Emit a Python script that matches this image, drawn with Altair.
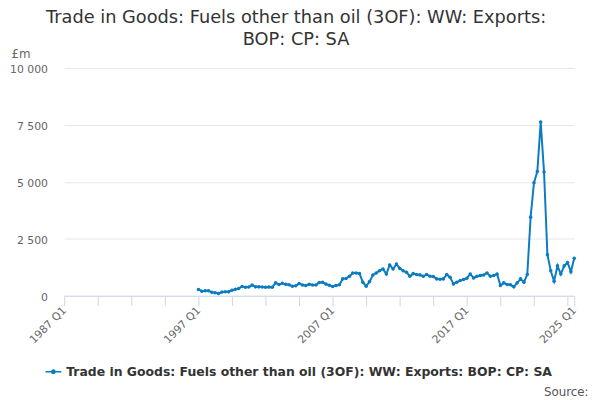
import altair as alt
import pandas as pd

# ---- data ----
series_name = "Trade in Goods: Fuels other than oil (3OF): WW: Exports: BOP: CP: SA"
title_lines = ["Trade in Goods: Fuels other than oil (3OF): WW: Exports:",
               "BOP: CP: SA"]

quarters = [f"{y} Q{q}" for y in range(1997, 2026) for q in range(1, 5)][:113]

values = [
    275, 200, 215, 220, 150, 130, 100, 160, 175, 170,
    245, 280, 320, 405, 375, 380, 465, 390, 390, 385,
    375, 380, 375, 565, 490, 550, 500, 480, 420, 440,
    535, 470, 450, 505, 470, 470, 580, 595, 510, 460,
    405, 450, 480, 740, 760, 850, 1000, 1000, 970, 595,
    420, 620, 910, 1000, 1100, 1175, 955, 1350, 1175, 1390,
    1200, 1100, 1030, 855, 970, 930, 915, 855, 930, 855,
    840, 740, 725, 740, 930, 810, 520, 595, 665, 710,
    770, 955, 780, 855, 885, 910, 1000, 855, 885, 955,
    450, 565, 490, 480, 390, 565, 740, 595, 930, 3450,
    4960, 5450, 7620, 5430, 1800, 1100, 635, 1310, 950, 1310,
    1460, 1050, 1645,
]

x_axis_first = "1987 Q1"
x_axis_last = "2025 Q1"
x_tick_labels = ["1987 Q1", "1997 Q1", "2007 Q1", "2017 Q1", "2025 Q1"]
y_ticks = [0, 2500, 5000, 7500, 10000]
y_unit = "£m"
source_text = "Source:"


def qpos(s):
    y, q = s.split(" Q")
    return int(y) + (int(q) - 1) / 4


df = pd.DataFrame({"quarter": quarters, "value": values})
df["series"] = series_name
df["t"] = df["quarter"].map(qpos)

x0, x1 = qpos(x_axis_first), qpos(x_axis_last)
tick_vals = []
v = x0
while v < x1 - 1e-9:
    tick_vals.append(v)
    v += 2.5
tick_vals.append(x1)

label_pos = [qpos(s) for s in x_tick_labels]
label_expr = " : ".join(
    [f"abs(datum.value - {p}) < 0.01 ? '{s}'" for p, s in zip(label_pos, x_tick_labels)]
) + " : ''"

line_color = "#0c7cc0"

chart = alt.Chart(df).mark_line(
    strokeWidth=2,
    color=line_color,
    point=alt.OverlayMarkDef(size=13, filled=True, color=line_color),
).encode(
    x=alt.X(
        "t:Q",
        scale=alt.Scale(domain=[x0, x1], nice=False, zero=False),
        axis=alt.Axis(
            values=tick_vals,
            labelExpr=label_expr,
            labelAngle=-45,
            labelAlign="right",
            labelBaseline="middle",
            labelPadding=3,
            labelColor="#666666",
            labelFontSize=11,
            labelOverlap=False,
            labelBound=False,
            labelFlush=False,
            grid=False,
            domainColor="#ccd6eb",
            tickColor="#ccd6eb",
            tickSize=10,
            title=source_text,
            titleX=531,
            titleY=97,
            titleAlign="right",
            titleBaseline="middle",
            titleFontSize=12,
            titleFontWeight="normal",
            titleColor="#555555",
        ),
    ),
    y=alt.Y(
        "value:Q",
        scale=alt.Scale(domain=[0, 10000], nice=False),
        axis=alt.Axis(
            values=y_ticks,
            labelExpr="replace(format(datum.value, ','), ',', ' ')",
            labelColor="#666666",
            labelFontSize=11,
            labelPadding=17,
            labelOffset=2,
            domain=False,
            ticks=False,
            gridColor="#e6e6e6",
            title=y_unit,
            titleAngle=0,
            titleX=-54,
            titleY=-15,
            titleAlign="left",
            titleBaseline="middle",
            titleFontSize=12,
            titleFontWeight="normal",
            titleColor="#666666",
        ),
    ),
    color=alt.Color(
        "series:N",
        scale=alt.Scale(range=[line_color]),
        legend=alt.Legend(
            title=None,
            orient="none",
            legendX=-19,
            legendY=300,
            padding=0,
            symbolType="M-1,-0.1L1,-0.1L1,0.1L-1,0.1Z M-0.3,0A0.3,0.3 0 1,1 0.3,0A0.3,0.3 0 1,1 -0.3,0Z",
            symbolSize=256,
            symbolFillColor=line_color,
            symbolStrokeWidth=0,
            labelFontSize=12.6,
            labelFontWeight="bold",
            labelColor="#333333",
            labelLimit=0,
            labelOffset=5,
        ),
    ),
).properties(
    width=517,
    height=231,
    padding={"left": 57, "top": 58, "right": 18, "bottom": 103},
    autosize=alt.AutoSizeParams(type="none"),
    title=alt.TitleParams(
        text=title_lines,
        fontSize=18,
        fontWeight="normal",
        color="#333333",
        anchor="middle",
        dx=-23.5,
        dy=22,
        offset=20,
        lineHeight=22,
    ),
).configure(
    font="DejaVu Sans",
    background="white",
).configure_view(
    stroke=None,
)

chart.save("out.html", embed_options={"renderer": "svg", "actions": False})
